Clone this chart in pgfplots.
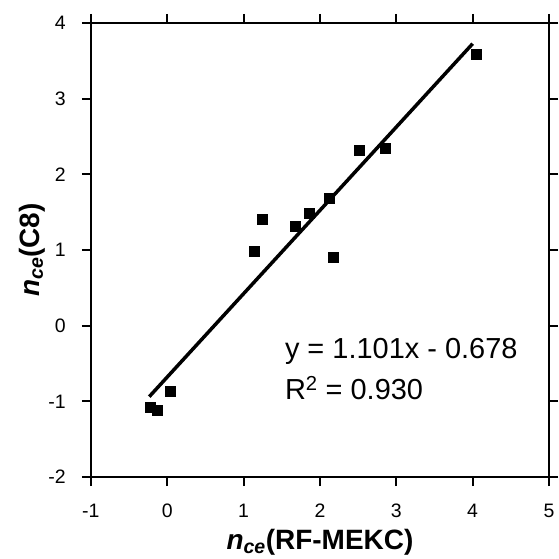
\documentclass[border=0pt]{standalone}
\usepackage{pgfplots}
\pgfplotsset{compat=1.18}
\usepackage{fontspec}
\setmainfont{Liberation Sans}
\newcommand{\tkf}{\fontsize{19.5}{22}\selectfont}
\begin{document}
\begin{tikzpicture}
\begin{axis}[
  scale only axis,
  width=459pt, height=455pt,
  xmin=-1, xmax=5, ymin=-2, ymax=4,
  xtick={-1,0,...,5}, ytick={-2,-1,...,4},
  xtick pos=both, ytick pos=both,
  tick align=outside,
  major tick length=9pt,
  major tick style={black, line width=2pt},
  axis line style={line width=2pt},
  xticklabels={{\tkf -1},{\tkf 0},{\tkf 1},{\tkf 2},{\tkf 3},{\tkf 4},{\tkf 5}},
  yticklabels={{\tkf -2},{\tkf -1},{\tkf 0},{\tkf 1},{\tkf 2},{\tkf 3},{\tkf 4}},
  xticklabel style={inner ysep=18pt},
  yticklabel style={inner xsep=16pt},
  xlabel={\bfseries\textit{n}\textsubscript{\textit{ce}}(RF-MEKC)},
  ylabel={\bfseries\textit{n}\textsubscript{\textit{ce}}(C8)},
  label style={font=\fontsize{28}{32}\selectfont},
  xlabel style={at={(axis description cs:0.5,-0.143)}, anchor=center},
  ylabel style={at={(axis description cs:-0.1285,0.5)}, anchor=center},
  clip=false,
]
\addplot[only marks, mark=square*, mark size=5pt, black] coordinates {
  (4.04,3.59) (2.86,2.35) (2.52,2.32) (2.12,1.68) (1.86,1.49)
  (1.67,1.31) (1.24,1.41) (1.14,0.99) (2.17,0.90)
  (0.04,-0.87) (-0.22,-1.08) (-0.13,-1.11)
};
\addplot[black, line width=3.5pt] coordinates {(-0.235,-0.9367) (4.0,3.726)};
\node[anchor=west, font=\fontsize{29}{33}\selectfont, inner sep=0pt] at (axis cs:1.54,-0.34) {y = 1.101x - 0.678};
\node[anchor=west, font=\fontsize{29}{33}\selectfont, inner sep=0pt] at (axis cs:1.54,-0.82) {R\textsuperscript{2} = 0.930};
\end{axis}
\path ([shift={(-91pt,-81pt)}]current axis.south west) rectangle ([shift={(6pt,23pt)}]current axis.north east);
\end{tikzpicture}
\end{document}
